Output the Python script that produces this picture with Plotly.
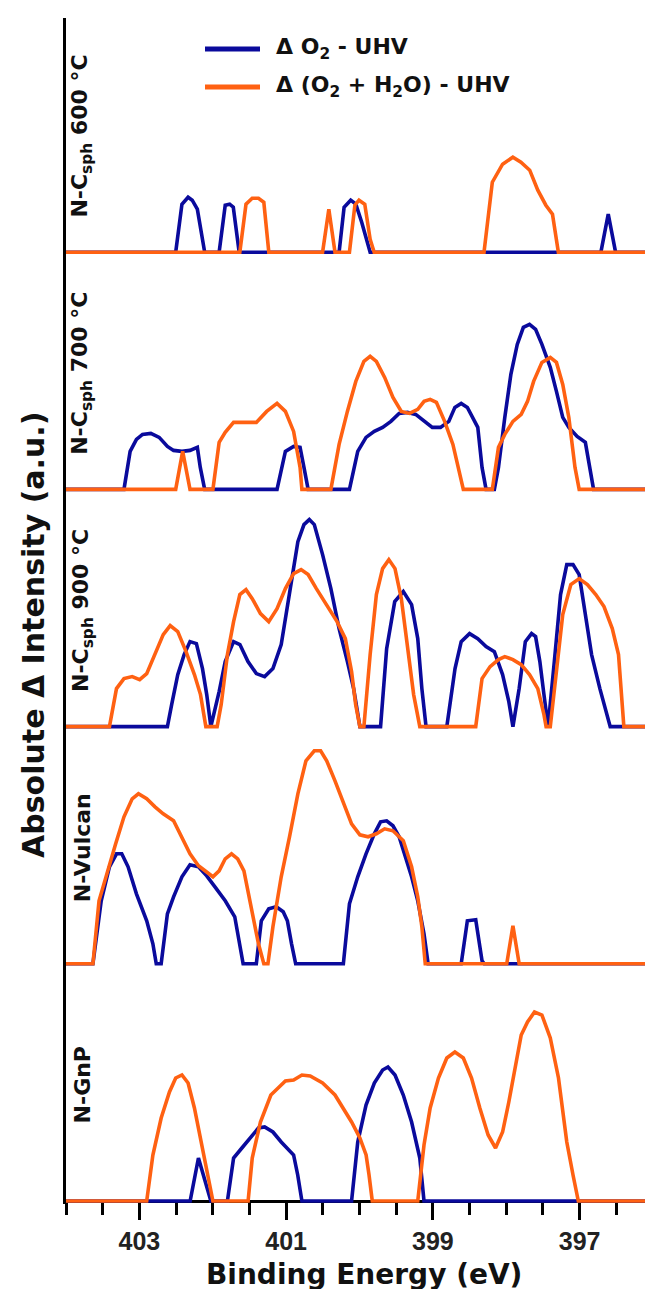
import plotly.graph_objects as go
from plotly.subplots import make_subplots

# ---------------- data (binding energy in eV, absolute delta intensity in a.u.) ----------------
panel_labels = ["N-C<sub>sph</sub> 600 °C", "N-C<sub>sph</sub> 700 °C", "N-C<sub>sph</sub> 900 °C",
                "N-Vulcan", "N-GnP"]
series_names = ["Δ O<sub>2</sub> - UHV", "Δ (O<sub>2</sub> + H<sub>2</sub>O) - UHV"]

# N-Csph 600 °C
o2_600_be = [404, 402.505, 402.42, 402.336, 402.28, 402.21, 402.11, 401.913, 401.83, 401.77, 401.72, 401.64,
             400.278, 400.21, 400.12, 400.05, 399.97, 399.855, 396.71, 396.61, 396.51, 396]
o2_600_int = [0, 0, 48, 55, 52, 43, 0, 0, 47, 48, 45, 0, 0, 45, 52, 48, 30, 0, 0, 38, 0, 0]
mix_600_be = [404, 401.631, 401.547, 401.462, 401.377, 401.304, 401.236, 400.503, 400.418, 400.334, 400.137,
              400.063, 400.007, 399.928, 399.855, 399.80, 398.303, 398.19, 398.05, 397.91, 397.80, 397.68,
              397.57, 397.46, 397.37, 397.29, 396]
mix_600_int = [0, 0, 48, 54, 54, 50, 0, 0, 43, 0, 0, 47, 52, 48, 13, 0, 0, 70, 88, 95, 90, 82, 62, 47, 38, 0, 0]

# N-Csph 700 °C
o2_700_be = [404, 403.21, 403.126, 403.04, 402.957, 402.844, 402.73, 402.618, 402.534, 402.42, 402.31, 402.21,
             402.17, 402.11, 401.124, 401.01, 400.898, 400.81, 400.757, 400.70, 400.137, 400.024, 399.911,
             399.798, 399.685, 399.572, 399.46, 399.347, 399.234, 399.121, 399.008, 398.896, 398.783, 398.70,
             398.614, 398.53, 398.44, 398.388, 398.33, 398.275, 398.162, 398.106, 398.02, 397.937, 397.85,
             397.767, 397.683, 397.60, 397.514, 397.40, 397.316, 397.23, 397.147, 397.034, 396.922, 396.865,
             396.81, 396]
o2_700_int = [0, 0, 38, 50, 55, 56, 52, 43, 39, 38, 39, 42, 22, 0, 0, 38, 43, 42, 22, 0, 0, 38, 52, 58, 62, 68,
              76, 77, 75, 68, 62, 62, 68, 82, 86, 82, 70, 62, 22, 0, 0, 22, 72, 115, 145, 162, 165, 160, 145,
              122, 98, 72, 62, 53, 47, 22, 0, 0]
mix_700_be = [404, 402.505, 402.41, 402.31, 401.998, 401.913, 401.83, 401.716, 401.547, 401.406, 401.265,
              401.124, 401.01, 400.898, 400.81, 400.785, 400.39, 400.278, 400.165, 400.05, 399.94, 399.855,
              399.77, 399.657, 399.544, 399.43, 399.319, 399.206, 399.12, 399.037, 398.952, 398.84, 398.727,
              398.64, 398.585, 398.19, 398.106, 398.02, 397.909, 397.796, 397.71, 397.627, 397.514, 397.40,
              397.316, 397.23, 397.147, 397.063, 397.006, 396]
mix_700_int = [0, 0, 38, 0, 0, 47, 57, 67, 67, 67, 78, 86, 78, 58, 22, 0, 0, 45, 78, 108, 128, 133, 128, 112,
               92, 78, 76, 80, 88, 90, 87, 68, 45, 18, 0, 0, 42, 55, 68, 75, 88, 108, 127, 132, 127, 105, 72,
               22, 0, 0]

# N-Csph 900 °C
o2_900_be = [404, 402.618, 402.56, 402.477, 402.39, 402.31, 402.223, 402.14, 402.082, 402.026, 401.913, 401.83,
             401.716, 401.63, 401.52, 401.406, 401.293, 401.18, 401.067, 400.954, 400.84, 400.757, 400.684,
             400.616, 400.503, 400.39, 400.278, 400.165, 400.08, 399.995, 399.713, 399.63, 399.52, 399.403,
             399.29, 399.206, 399.15, 399.093, 398.81, 398.698, 398.614, 398.50, 398.388, 398.275, 398.162,
             398.05, 397.965, 397.909, 397.824, 397.74, 397.655, 397.60, 397.542, 397.486, 397.43, 397.345,
             397.26, 397.175, 397.09, 397.006, 396.92, 396.837, 396.724, 396.583, 396]
o2_900_int = [0, 0, 22, 52, 72, 85, 83, 58, 32, 0, 35, 65, 85, 82, 65, 53, 50, 58, 82, 132, 185, 202, 207, 202,
              172, 138, 98, 65, 38, 0, 0, 78, 125, 135, 122, 88, 38, 0, 0, 58, 85, 93, 88, 80, 75, 52, 25, 0,
              38, 85, 93, 90, 65, 32, 0, 65, 132, 162, 162, 152, 112, 72, 38, 0, 0]
mix_900_be = [404, 403.408, 403.312, 403.21, 403.098, 402.996, 402.90, 402.787, 402.675, 402.58, 402.477,
              402.364, 402.25, 402.167, 402.094, 401.94, 401.885, 401.80, 401.716, 401.631, 401.547, 401.462,
              401.35, 401.237, 401.124, 401.01, 400.898, 400.796, 400.70, 400.588, 400.447, 400.306, 400.193,
              400.108, 400.052, 399.995, 399.94, 399.855, 399.77, 399.685, 399.60, 399.516, 399.43, 399.347,
              399.262, 399.178, 398.416, 398.33, 398.22, 398.106, 398.02, 397.909, 397.796, 397.683, 397.57,
              397.486, 397.457, 397.40, 397.316, 397.23, 397.12, 397.006, 396.894, 396.78, 396.668, 396.555,
              396.47, 396.44, 396.397, 396]
mix_900_int = [0, 0, 38, 48, 50, 47, 53, 72, 92, 101, 95, 75, 52, 32, 0, 0, 22, 72, 105, 132, 137, 128, 113,
               105, 118, 138, 153, 157, 152, 138, 122, 105, 88, 55, 22, 0, 0, 72, 132, 158, 167, 158, 128, 78,
               32, 0, 0, 48, 60, 67, 70, 67, 62, 52, 38, 12, 0, 0, 52, 112, 142, 148, 142, 132, 120, 98, 72, 38,
               0, 0]

# N-Vulcan
o2_vul_be = [404, 403.633, 403.52, 403.408, 403.312, 403.24, 403.154, 403.04, 402.90, 402.816, 402.77, 402.703,
             402.618, 402.534, 402.42, 402.31, 402.195, 402.082, 401.97, 401.83, 401.70, 401.63, 401.586,
             401.406, 401.338, 401.237, 401.135, 401.04, 400.983, 400.926, 400.87, 400.22, 400.137, 400.024,
             399.911, 399.798, 399.713, 399.63, 399.544, 399.46, 399.375, 399.29, 399.206, 399.121, 399.065,
             398.614, 398.53, 398.416, 398.33, 398.30, 396]
o2_vul_int = [0, 0, 63, 97, 110, 110, 97, 70, 43, 20, 0, 0, 50, 67, 87, 99, 97, 88, 77, 63, 47, 20, 0, 0, 43,
              55, 57, 52, 43, 20, 0, 0, 60, 87, 110, 130, 142, 143, 138, 127, 107, 87, 63, 30, 0, 0, 43, 44, 3,
              0, 0]
mix_vul_be = [404, 403.633, 403.55, 403.436, 403.323, 403.21, 403.098, 403.013, 402.90, 402.787, 402.675,
              402.534, 402.42, 402.31, 402.195, 402.082, 401.998, 401.913, 401.83, 401.744, 401.66, 401.575,
              401.462, 401.377, 401.304, 401.248, 401.18, 401.067, 400.954, 400.84, 400.73, 400.616, 400.53,
              400.447, 400.334, 400.22, 400.108, 399.995, 399.883, 399.77, 399.657, 399.544, 399.403, 399.29,
              399.206, 399.15, 399.104, 397.993, 397.909, 397.824, 396]
mix_vul_int = [0, 0, 63, 93, 120, 147, 165, 170, 165, 157, 150, 143, 127, 110, 98, 92, 87, 93, 105, 110, 105,
               93, 53, 20, 0, 0, 37, 87, 127, 170, 203, 213, 213, 203, 183, 160, 140, 129, 127, 130, 135, 133,
               123, 97, 67, 37, 0, 0, 38, 0, 0]

# N-GnP
o2_gnp_be = [404, 402.308, 402.195, 402.026, 401.80, 401.716, 401.603, 401.462, 401.377, 401.293, 401.18,
             401.067, 400.898, 400.842, 400.785, 400.108, 400.024, 399.911, 399.798, 399.685, 399.612, 399.516,
             399.403, 399.29, 399.178, 399.121, 396]
o2_gnp_int = [0, 0, 43, 0, 0, 43, 53, 66, 73, 74, 69, 59, 46, 26, 0, 0, 59, 96, 118, 131, 134, 126, 106, 79, 43,
              0, 0]
mix_gnp_be = [404, 402.90, 402.816, 402.703, 402.59, 402.505, 402.42, 402.336, 402.25, 402.167, 402.082,
              401.998, 401.518, 401.462, 401.35, 401.208, 401.095, 401.01, 400.898, 400.785, 400.672, 400.503,
              400.334, 400.22, 400.108, 399.995, 399.91, 399.87, 399.826, 399.206, 399.121, 399.037, 398.924,
              398.81, 398.70, 398.585, 398.473, 398.36, 398.247, 398.146, 398.05, 397.965, 397.88, 397.796,
              397.71, 397.615, 397.514, 397.40, 397.288, 397.175, 397.09, 397.018, 396]
mix_gnp_int = [0, 0, 46, 83, 109, 123, 126, 118, 93, 63, 33, 0, 0, 43, 79, 106, 114, 120, 121, 126, 125, 118,
               106, 93, 79, 63, 46, 26, 0, 0, 56, 93, 123, 143, 149, 143, 123, 93, 66, 53, 69, 99, 133, 166,
               179, 189, 186, 163, 123, 59, 26, 0, 0]

major_ticks = [403, 401, 399, 397]
major_labels = ["403", "401", "399", "397"]
minor_ticks = [404, 403.5, 402.5, 402, 401.5, 400.5, 400, 399.5, 398.5, 398, 397.5, 396.5, 396]

panels = [
    (o2_600_be, o2_600_int, mix_600_be, mix_600_int),
    (o2_700_be, o2_700_int, mix_700_be, mix_700_int),
    (o2_900_be, o2_900_int, mix_900_be, mix_900_int),
    (o2_vul_be, o2_vul_int, mix_vul_be, mix_vul_int),
    (o2_gnp_be, o2_gnp_int, mix_gnp_be, mix_gnp_int),
]
for p in panels:
    assert len(p[0]) == len(p[1]) and len(p[2]) == len(p[3])

# ---------------- style ----------------
BLUE = "#0A0A9C"
ORANGE = "#FF6112"
W, H = 653, 1289
ML, MR, MT, MB = 58, 8, 10, 93
PW, PH = W - ML - MR, H - MT - MB
N = len(panels)
PANEL_PX = PH / N
PAD = 3  # px of room under each baseline so the zero line is not clipped

fig = make_subplots(rows=N, cols=1, shared_xaxes=True, vertical_spacing=0)

for k, (ob, oi, mb, mi) in enumerate(panels):
    fig.add_trace(go.Scatter(x=ob, y=oi, mode="lines", name="Δ O2 - UHV",
                             line=dict(color=BLUE, width=3.6), showlegend=False, hoverinfo="skip"),
                  row=k + 1, col=1)
    fig.add_trace(go.Scatter(x=mb, y=mi, mode="lines", name="Δ (O2 + H2O) - UHV",
                             line=dict(color=ORANGE, width=3.6), showlegend=False, hoverinfo="skip"),
                  row=k + 1, col=1)

fig.update_yaxes(range=[-PAD, PANEL_PX - PAD], showline=True, linecolor="black", linewidth=3,
                 showticklabels=False, ticks="", showgrid=False, zeroline=False, fixedrange=True)
fig.update_xaxes(range=[404, 396], showgrid=False, zeroline=False, showline=False,
                 showticklabels=False, ticks="")
fig.update_xaxes(row=N, col=1, anchor="free", position=PAD / PH, showline=True, linecolor="black",
                 linewidth=3, layer="below traces",
                 ticks="outside", ticklen=17, tickwidth=3, tickcolor="black",
                 tickmode="array", tickvals=major_ticks, ticktext=major_labels, showticklabels=True,
                 tickfont=dict(family="Liberation Sans, Arial, sans-serif", size=25, color="#222",
                               weight="bold"),
                 minor=dict(tickmode="array", tickvals=minor_ticks, ticklen=12, tickwidth=3,
                            tickcolor="black", ticks="outside"))

def px_x(x):
    return (x - ML) / PW

def px_y(y):
    return 1 - (y - MT) / PH

annotations = []
shapes = []
lab_font = dict(family="DejaVu Sans, sans-serif", size=22, color="#111", weight="bold")
for k, lab in enumerate(panel_labels):
    yref = "y domain" if k == 0 else f"y{k + 1} domain"
    annotations.append(dict(text=lab, xref="paper", x=px_x(74), yref=yref, y=0.5,
                            textangle=-90, showarrow=False, xanchor="center", yanchor="middle",
                            font=lab_font))

annotations.append(dict(text="Absolute Δ Intensity (a.u.)", xref="paper", x=px_x(25), yref="paper",
                        y=px_y(627), textangle=-90, showarrow=False, xanchor="center", yanchor="middle",
                        font=dict(family="DejaVu Sans, sans-serif", size=30, color="#111", weight="bold")))
annotations.append(dict(text="Binding Energy (eV)", xref="paper", x=px_x(356), yref="paper",
                        y=px_y(1266), showarrow=False, xanchor="center", yanchor="middle",
                        font=dict(family="DejaVu Sans, sans-serif", size=28, color="#111", weight="bold")))

# legend (drawn manually to match the long sample lines)
for name, col, yy in [(series_names[0], BLUE, 41), (series_names[1], ORANGE, 79)]:
    shapes.append(dict(type="line", xref="paper", yref="paper", x0=px_x(197), x1=px_x(252),
                       y0=px_y(yy), y1=px_y(yy), line=dict(color=col, width=5)))
    annotations.append(dict(text=name, xref="paper", x=px_x(266), yref="paper", y=px_y(yy),
                            showarrow=False, xanchor="left", yanchor="middle",
                            font=dict(family="DejaVu Sans, sans-serif", size=22, color="#111",
                                      weight="bold")))

fig.update_layout(width=W, height=H, margin=dict(l=ML, r=MR, t=MT, b=MB),
                  plot_bgcolor="white", paper_bgcolor="white", showlegend=False,
                  annotations=annotations, shapes=shapes)

fig.write_html("out.html")
